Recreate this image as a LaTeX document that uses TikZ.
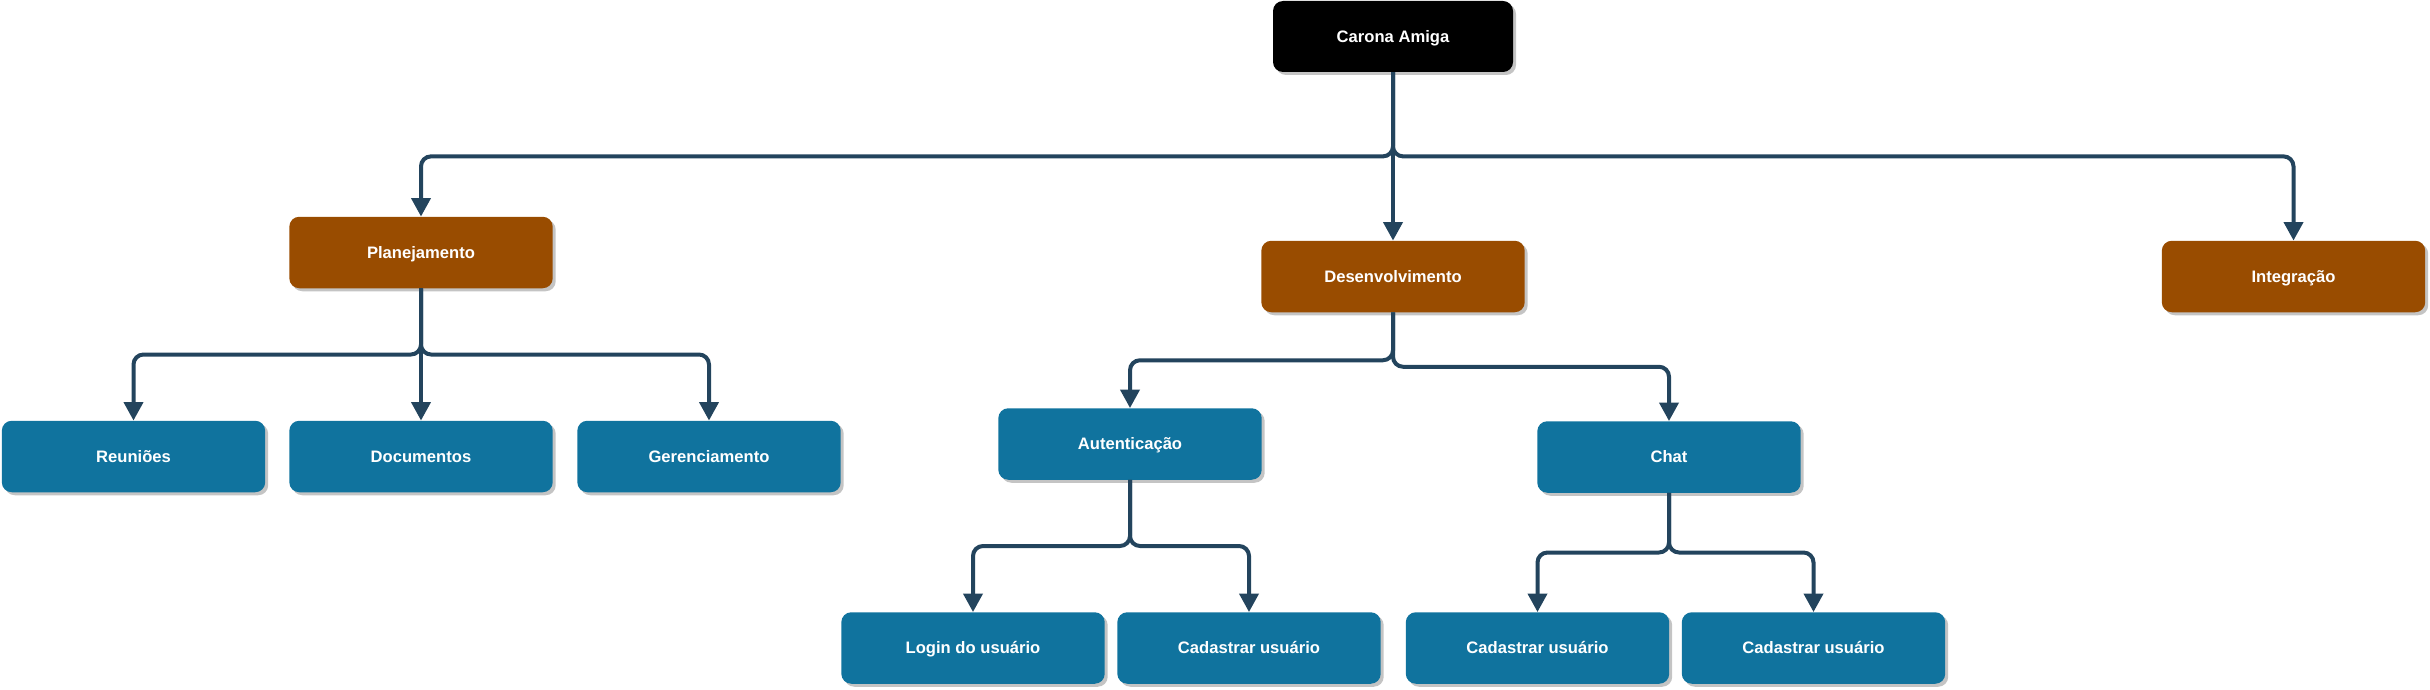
\documentclass[tikz,border=0pt]{standalone}
\usepackage{fontspec}
\setmainfont{Liberation Sans}
\usetikzlibrary{arrows.meta,shadows,calc}
\definecolor{edgec}{HTML}{23445D}
\definecolor{orangec}{HTML}{994C00}
\definecolor{bluec}{HTML}{10739E}
\definecolor{shadowc}{HTML}{C4C4C4}
\begin{document}
\begin{tikzpicture}[x=1pt,y=-1pt,
  box/.style={rounded corners=10pt, minimum width=263.4pt, minimum height=71.5pt,
    inner sep=0pt, text=white, font=\fontsize{16.6pt}{20pt}\selectfont\bfseries,
    text height=15pt, text depth=3.5pt,
    general shadow={fill=shadowc, shadow xshift=3pt, shadow yshift=-3pt}},
  rootbox/.style={box, fill=black, minimum width=240pt, minimum height=71pt},
  phase/.style={box, fill=orangec},
  task/.style={box, fill=bluec},
  edge/.style={draw=edgec, line width=4pt, rounded corners=10pt,
    -{Triangle[length=18.5pt,width=19pt]}}
]
\useasboundingbox (0,0) rectangle (2430,690);

\node[rootbox] (root) at (1393,36.5) {Carona Amiga};
\node[phase] (plan) at (421,252.5) {Planejamento};
\node[phase] (dev) at (1393,276.5) {Desenvolvimento};
\node[phase] (integ) at (2293.5,276.5) {Integração};

\node[task] (reun) at (133.5,456.5) {Reuniões};
\node[task] (doc) at (421,456.5) {Documentos};
\node[task] (ger) at (709,456.5) {Gerenciamento};

\node[task] (aut) at (1130,444) {Autenticação};
\node[task] (chat) at (1669,457) {Chat};

\node[task] (login) at (973,648) {Login do usuário};
\node[task] (cad1) at (1249,648) {Cadastrar usuário};
\node[task] (cad2) at (1537.5,648) {Cadastrar usuário};
\node[task] (cad3) at (1813.5,648) {Cadastrar usuário};

% junction heights
\coordinate (j0) at ($(root.south)!.5!(dev.north)$);
\coordinate (j1) at ($(plan.south)!.5!(doc.north)$);
\coordinate (j2) at ($(dev.south)!.5!(aut.north)$);
\coordinate (j3) at ($(dev.south)!.5!(chat.north)$);
\coordinate (j4) at ($(aut.south)!.5!(login.north)$);
\coordinate (j5) at ($(chat.south)!.5!(cad2.north)$);

\draw[edge] (root.south) -- (dev.north);
\draw[edge] (root.south) -- (root.south |- j0) -| (plan.north);
\draw[edge] (root.south) -- (root.south |- j0) -| (integ.north);

\draw[edge] (plan.south) -- (doc.north);
\draw[edge] (plan.south) -- (plan.south |- j1) -| (reun.north);
\draw[edge] (plan.south) -- (plan.south |- j1) -| (ger.north);

\draw[edge] (dev.south) -- (dev.south |- j2) -| (aut.north);
\draw[edge] (dev.south) -- (dev.south |- j3) -| (chat.north);

\draw[edge] (aut.south) -- (aut.south |- j4) -| (login.north);
\draw[edge] (aut.south) -- (aut.south |- j4) -| (cad1.north);

\draw[edge] (chat.south) -- (chat.south |- j5) -| (cad2.north);
\draw[edge] (chat.south) -- (chat.south |- j5) -| (cad3.north);
\end{tikzpicture}
\end{document}
